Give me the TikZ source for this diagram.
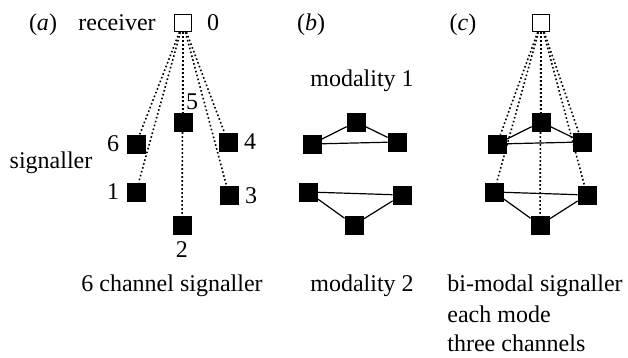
\documentclass[tikz,border=0pt]{standalone}
\usepackage{fontspec}
\setmainfont{Liberation Serif}
\pgfdeclarelayer{bg}
\pgfsetlayers{bg,main}
\begin{document}
\begin{tikzpicture}[x=0.5pt,y=-0.5pt,
	sig/.style={draw=black,fill=black,minimum size=9pt,inner sep=0pt},
	rec/.style={draw=black,fill=white,line width=0.7pt,minimum size=8.5pt,inner sep=0pt},
	txt/.style={font=\fontsize{12}{15}\selectfont,inner sep=0pt,anchor=base},
	chan/.style={line width=0.8pt,dash pattern=on 0.8pt off 1.2pt},
	link/.style={line width=0.6pt}]
	\useasboundingbox (0,0) rectangle (628,358);
	% (a) six channel signaller
	\node[txt] (la) at (43,31) {(\textit{a})};
	\node[txt] (trec) at (117,31) {receiver};
	\node[rec] (r) at (183,23) {};
	\node[txt] (t0) at (213,31) {0};
	\node[sig] (n1) at (136,192) {};
	\node[sig] (n2) at (182,225) {};
	\node[sig] (n3) at (229,195) {};
	\node[sig] (n4) at (228,142) {};
	\node[sig] (n5) at (183,122) {};
	\node[sig] (n6) at (136,144) {};
	\node[txt] (t1) at (113,200) {1};
	\node[txt] (t2) at (182,258) {2};
	\node[txt] (t3) at (251,204) {3};
	\node[txt] (t4) at (250,150) {4};
	\node[txt] (t5) at (192,110) {5};
	\node[txt] (t6) at (113,152) {6};
	\node[txt] (tsig) at (51,169) {signaller};
	\node[txt,anchor=base west] (ta) at (81,292) {6 channel signaller};
	\begin{pgfonlayer}{bg}
		\foreach \n in {1,2,3,4,5,6}
			\draw[chan] (r) -- (n\n);
	\end{pgfonlayer}
	% (b) two modalities
	\node[txt] (lb) at (311,31) {(\textit{b})};
	\node[txt,anchor=base west] (tm1) at (310,87) {modality 1};
	\node[sig] (b1) at (312,144) {};
	\node[sig] (b2) at (356,122) {};
	\node[sig] (b3) at (397,142) {};
	\node[sig] (b4) at (308,192) {};
	\node[sig] (b5) at (354,225) {};
	\node[sig] (b6) at (402,195) {};
	\draw[link] (b1) -- (b2) -- (b3) -- (b1);
	\draw[link] (b4) -- (b5) -- (b6) -- (b4);
	\node[txt,anchor=base west] (tm2) at (310,292) {modality 2};
	% (c) bi-modal signaller
	\node[txt] (lc) at (463,31) {(\textit{c})};
	\node[rec] (rc) at (541,23) {};
	\node[sig] (c1) at (497,144) {};
	\node[sig] (c2) at (541,122) {};
	\node[sig] (c3) at (582,142) {};
	\node[sig] (c4) at (494,192) {};
	\node[sig] (c5) at (540,225) {};
	\node[sig] (c6) at (587,195) {};
	\begin{pgfonlayer}{bg}
		\foreach \n in {1,...,6}
			\draw[chan] (rc) -- (c\n);
		\draw[link] (c1) -- (c2) -- (c3) -- (c1);
		\draw[link] (c4) -- (c5) -- (c6) -- (c4);
	\end{pgfonlayer}
	\node[txt,anchor=base west] (tc1) at (447,292) {bi-modal signaller};
	\node[txt,anchor=base west] (tc2) at (447,323) {each mode};
	\node[txt,anchor=base west] (tc3) at (447,352) {three channels};
\end{tikzpicture}
\end{document}
